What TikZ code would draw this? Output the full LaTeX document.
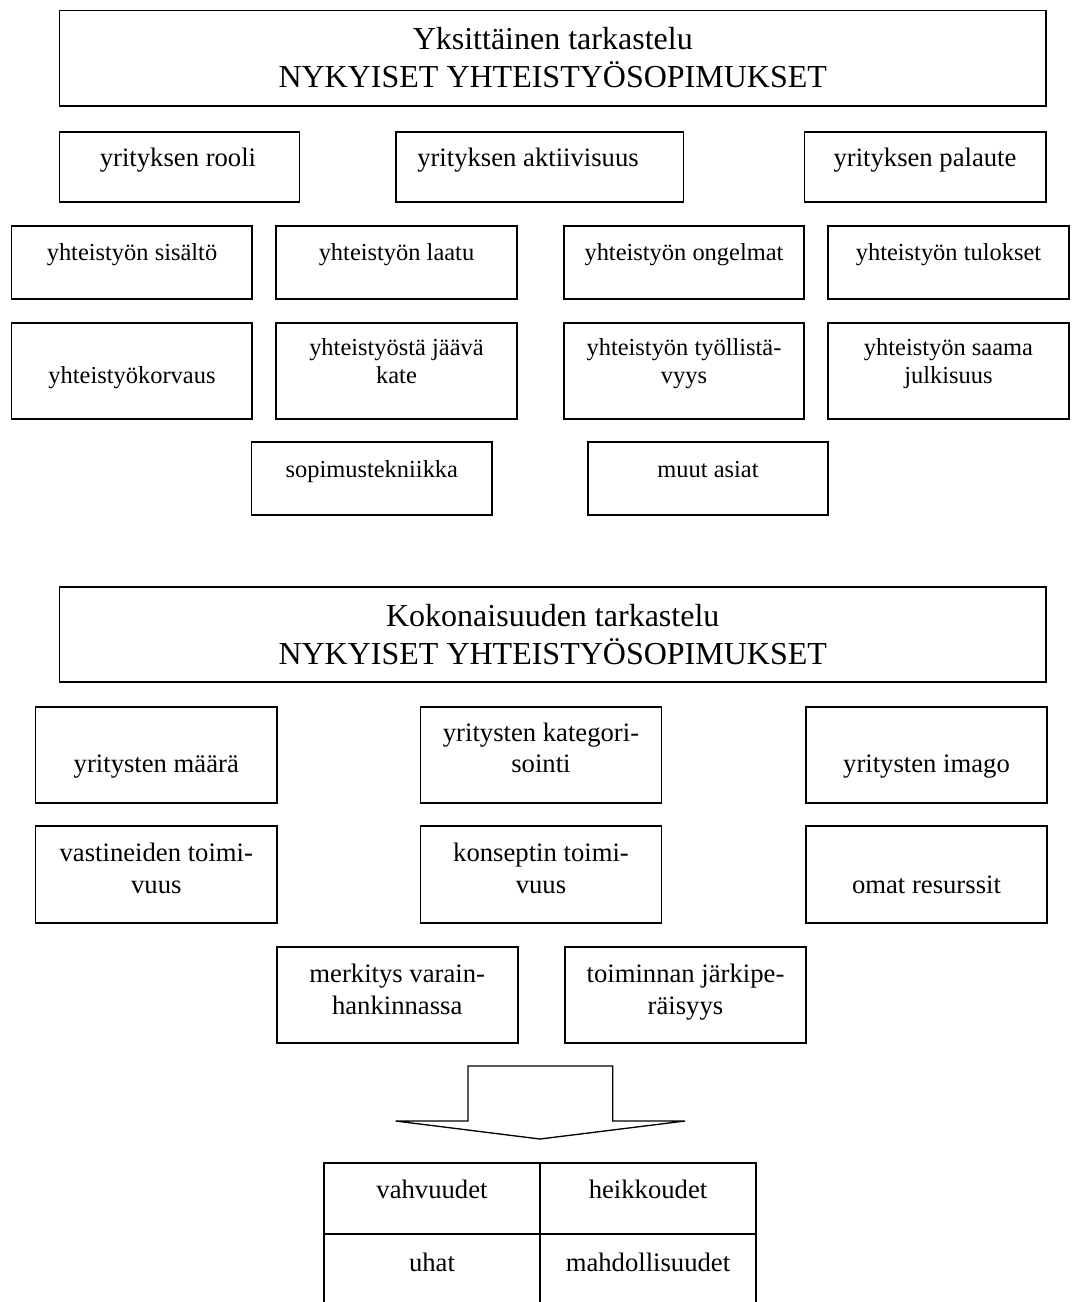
\documentclass[tikz,border=0pt]{standalone}
\usepackage{fontspec}
\setmainfont{Liberation Serif}
\begin{document}
\begin{tikzpicture}[x=0.45pt,y=-0.45pt,
  bx/.style={draw,line width=0.8pt},
  tt/.style={anchor=base,inner sep=0pt,font=\fontsize{14.4}{16}\selectfont},
  ta/.style={anchor=base,inner sep=0pt,font=\fontsize{12}{14}\selectfont},
  tb/.style={anchor=base,inner sep=0pt,font=\fontsize{11}{13}\selectfont}]
\useasboundingbox (0,0) rectangle (1072,1302);
% --- section 1 ---
\draw[bx] (59.5,10.5) rectangle (1046,106);
\node[tt] (h1a) at (552.75,49.8) {Yksittäinen tarkastelu};
\node[tt] (h1b) at (552.75,87.3) {NYKYISET YHTEISTYÖSOPIMUKSET};
% row 1
\draw[bx] (59.5,131.7) rectangle (299.4,202);
\draw[bx] (396,131.7) rectangle (683.5,202);
\draw[bx] (804.5,131.7) rectangle (1046,202);
\node[ta] (r1a) at (178,166.7) {yrityksen rooli};
\node[ta] (r1b) at (528,166.7) {yrityksen aktiivisuus};
\node[ta] (r1c) at (925,166.7) {yrityksen palaute};
% row 2
\foreach \a/\b in {11.6/252,276/517,564/804,828/1069}{
  \draw[bx] (\a,226) rectangle (\b,298.7);
  \draw[bx] (\a,322.7) rectangle (\b,419);}
\node[tb] (r2a) at (132,260) {yhteistyön sisältö};
\node[tb] (r2b) at (396.5,260) {yhteistyön laatu};
\node[tb] (r2c) at (684,260) {yhteistyön ongelmat};
\node[tb] (r2d) at (948.5,260) {yhteistyön tulokset};
% row 3
\node[tb] (r3a) at (132,383.3) {yhteistyökorvaus};
\node[tb] (r3b1) at (396.5,355) {yhteistyöstä jäävä};
\node[tb] (r3b2) at (396.5,383.3) {kate};
\node[tb] (r3c1) at (684,355) {yhteistyön työllistä-};
\node[tb] (r3c2) at (684,383.3) {vyys};
\node[tb] (r3d1) at (948.5,355) {yhteistyön saama};
\node[tb] (r3d2) at (948.5,383.3) {julkisuus};
% row 4
\draw[bx] (251.5,441.7) rectangle (492,515);
\draw[bx] (588,441.7) rectangle (828,515);
\node[tb] (r4a) at (371.8,477.3) {sopimustekniikka};
\node[tb] (r4b) at (708,477.3) {muut asiat};
% --- section 2 ---
\draw[bx] (59.5,587) rectangle (1046,682);
\node[tt] (h2a) at (552.75,626.5) {Kokonaisuuden tarkastelu};
\node[tt] (h2b) at (552.75,664.3) {NYKYISET YHTEISTYÖSOPIMUKSET};
\foreach \a/\b in {35.6/277,420.5/661.6,806/1047}{
  \draw[bx] (\a,706.7) rectangle (\b,803);
  \draw[bx] (\a,826) rectangle (\b,922.7);}
\node[ta] (sa1) at (156.3,772.5) {yritysten määrä};
\node[ta] (sa2a) at (541,741) {yritysten kategori-};
\node[ta] (sa2b) at (541,772.5) {sointi};
\node[ta] (sa3) at (926.5,772.5) {yritysten imago};
\node[ta] (sb1a) at (156.3,861) {vastineiden toimi-};
\node[ta] (sb1b) at (156.3,893) {vuus};
\node[ta] (sb2a) at (541,861) {konseptin toimi-};
\node[ta] (sb2b) at (541,893) {vuus};
\node[ta] (sb3) at (926.5,893) {omat resurssit};
\draw[bx] (276.7,946.7) rectangle (517.8,1043);
\draw[bx] (565,946.7) rectangle (806,1043);
\node[ta] (sc1a) at (397.2,982.5) {merkitys varain-};
\node[ta] (sc1b) at (397.2,1014.5) {hankinnassa};
\node[ta] (sc2a) at (685.5,982.5) {toiminnan järkipe-};
\node[ta] (sc2b) at (685.5,1014.5) {räisyys};
% --- arrow ---
\draw[line width=0.6pt,line join=miter] (468,1121) -- (468,1066) -- (612.7,1066) -- (612.7,1121)
  -- (685,1121) -- (540,1139) -- (395.7,1121) -- cycle;
% --- table ---
\draw[line width=0.8pt] (324,1302) -- (324,1162.7) -- (756,1162.7) -- (756,1302);
\draw[line width=0.8pt] (540,1162.7) -- (540,1302);
\draw[line width=0.8pt] (324,1234) -- (756,1234);
\node[ta] (tv) at (432,1198.3) {vahvuudet};
\node[ta] (th) at (648,1198.3) {heikkoudet};
\node[ta] (tu) at (432,1271.7) {uhat};
\node[ta] (tm) at (648,1271.7) {mahdollisuudet};
\end{tikzpicture}
\end{document}
